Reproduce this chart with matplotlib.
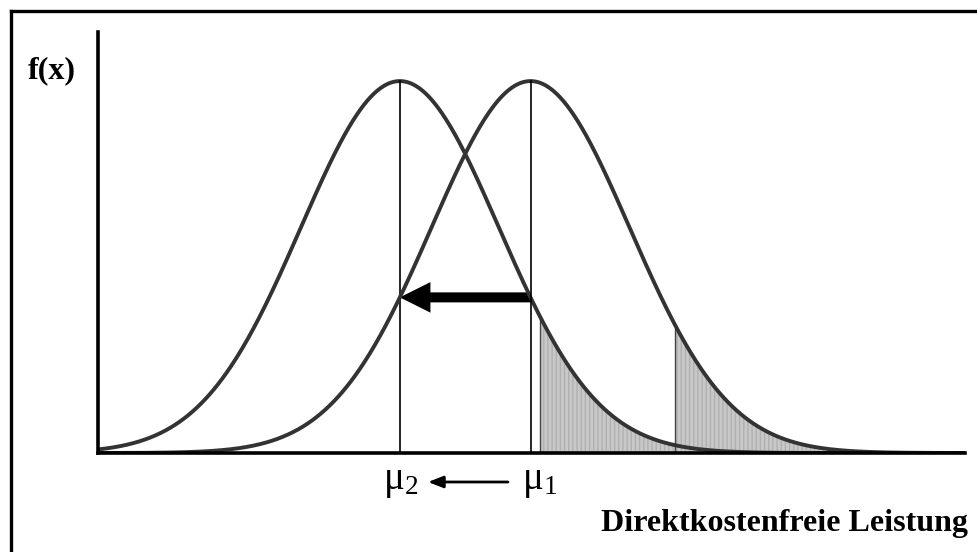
import numpy as np
import matplotlib.pyplot as plt
from matplotlib.patches import FancyArrowPatch

plt.rcParams['font.family'] = ['Liberation Serif', 'DejaVu Serif']
plt.rcParams['mathtext.fontset'] = 'custom'
plt.rcParams['mathtext.rm'] = 'Liberation Serif'
plt.rcParams['mathtext.it'] = 'Liberation Serif:italic'

# two normal curves (sigma = 1), the mean shifts from mu1 down to mu2
mu2 = 0.0
mu1 = 1.32
sigma = 1.0
x_min, x_max = -3.05, 5.71
shade_start = [mu1 + 0.10, mu1 + 1.46]   # left curve, right curve
curve_color = '#333333'


def density(x, mu):
    return np.exp(-0.5 * ((x - mu) / sigma) ** 2)


fig = plt.figure(figsize=(9.78, 5.52), dpi=100)
ax = fig.add_axes([98 / 978, 99 / 552, 867 / 978, 421 / 552])
ax.set_xlim(x_min, x_max)
ax.set_ylim(0, 1.132)

xs = np.linspace(x_min, x_max, 800)

# shaded upper tails
for mu, start in zip([mu2, mu1], shade_start):
    xt = np.linspace(start, x_max, 300)
    yt = density(xt, mu)
    ax.fill_between(xt, 0, yt, facecolor='#c8c8c8', edgecolor='#b0b0b0',
                    hatch='||||', linewidth=0)
    ax.plot([start, start], [0, density(start, mu)], color='#444444', lw=1.0)

# curves
for mu in [mu2, mu1]:
    ax.plot(xs, density(xs, mu), color=curve_color, lw=2.8, solid_capstyle='round')
    ax.plot([mu, mu], [0, 1.0], color='black', lw=1.2)

# thick arrow showing the shift of the mean
y_arrow = density(mu1, mu2)
shift = FancyArrowPatch((mu1, y_arrow), (mu2, y_arrow),
                        arrowstyle='simple,head_length=22,head_width=22,tail_width=7.2',
                        mutation_scale=1, color='black', lw=0,
                        shrinkA=0, shrinkB=0)
ax.add_patch(shift)

for side in ['top', 'right']:
    ax.spines[side].set_visible(False)
for side in ['left', 'bottom']:
    ax.spines[side].set_linewidth(2.6)
    ax.spines[side].set_color('black')
ax.set_xticks([])
ax.set_yticks([])
ax.patch.set_alpha(0)

# labels below the axis
fig.text(383 / 978, 1 - 482 / 552, r'$\mathrm{μ}_2$', fontsize=28, ha='left', va='center')
fig.text(522 / 978, 1 - 482 / 552, r'$\mathrm{μ}_1$', fontsize=28, ha='left', va='center')
ax.annotate('', xy=(428 / 978, 1 - 482 / 552), xytext=(508 / 978, 1 - 482 / 552),
            xycoords='figure fraction', textcoords='figure fraction',
            arrowprops=dict(arrowstyle='-|>,head_length=0.9,head_width=0.35',
                            color='black', lw=2, shrinkA=0, shrinkB=0))

fig.text(28 / 978, 1 - 71 / 552, 'f(x)', fontsize=23, fontweight='bold',
         ha='left', va='center')
fig.text(968 / 978, 1 - 531 / 552, 'Direktkostenfreie Leistung', fontsize=23,
         fontweight='bold', ha='right', va='baseline')

# outer frame (open to the right and bottom)
fig.add_artist(plt.Line2D([11 / 978, 1.0], [1 - 11 / 552, 1 - 11 / 552],
                          color='black', lw=2.4, transform=fig.transFigure))
fig.add_artist(plt.Line2D([11 / 978, 11 / 978], [0.0, 1 - 11 / 552],
                          color='black', lw=2.4, transform=fig.transFigure))

fig.savefig('out.png', dpi=100)
